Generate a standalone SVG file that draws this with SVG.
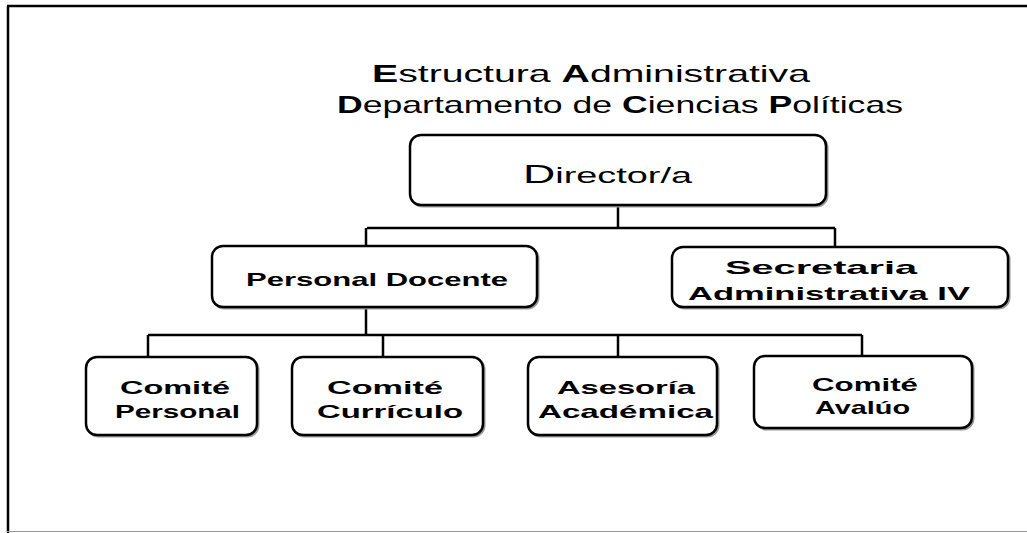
<svg xmlns="http://www.w3.org/2000/svg" width="1027" height="533" viewBox="0 0 1027 533">
<style>
.box{fill:#fff;stroke:#000;stroke-width:2.5}
.sh{fill:none;stroke:#999;stroke-width:2}
.ln{fill:none;stroke:#000;stroke-width:2.5}
.t{font-family:"Liberation Sans",Arial,sans-serif;fill:#000}
.b{font-weight:bold;font-size:18.5px}
.title{font-size:24px}
</style>
<rect width="1027" height="533" fill="#fff"/>
<g id="frame">
<line x1="7" y1="6" x2="1027" y2="6" stroke="#000" stroke-width="2.5"/>
<line x1="8" y1="6" x2="8" y2="533" stroke="#000" stroke-width="2.5"/>
<line x1="7" y1="531.5" x2="1027" y2="531.5" stroke="#999" stroke-width="1"/>
</g>
<g id="title" class="t title">
<text x="372" y="82" textLength="438" lengthAdjust="spacingAndGlyphs"><tspan font-weight="bold">E</tspan>structura <tspan font-weight="bold">A</tspan>dministrativa</text>
<text x="337" y="113" textLength="566" lengthAdjust="spacingAndGlyphs"><tspan font-weight="bold">D</tspan>epartamento de <tspan font-weight="bold">C</tspan>iencias <tspan font-weight="bold">P</tspan>olíticas</text>
</g>
<g id="connectors">
<path class="ln" d="M618 205V228M367 228H835M366 228V246M835 228V247"/>
<path class="ln" d="M366 307V335M148 335H862M148 335V357M383 335V357M618 335V357M862 335V356"/>
</g>
<g id="director">
<rect class="sh" x="411.5" y="136.5" width="416" height="70" rx="11"/>
<rect class="box" x="410" y="135" width="416" height="70" rx="11"/>
<text class="t" x="523" y="183" textLength="169" lengthAdjust="spacingAndGlyphs"><tspan font-size="26">D</tspan><tspan font-size="22">irector/a</tspan></text>
</g>
<g id="personal-docente">
<rect class="sh" x="213.5" y="247.5" width="325" height="61" rx="11"/>
<rect class="box" x="212" y="246" width="325" height="61" rx="11"/>
<text class="t b" x="246" y="286" textLength="262" lengthAdjust="spacingAndGlyphs">Personal Docente</text>
</g>
<g id="secretaria">
<rect class="sh" x="673.5" y="248.5" width="336" height="60" rx="11"/>
<rect class="box" x="672" y="247" width="336" height="60" rx="11"/>
<text class="t b" x="725" y="274" textLength="192" lengthAdjust="spacingAndGlyphs">Secretaria</text>
<text class="t b" x="688" y="300" textLength="282" lengthAdjust="spacingAndGlyphs">Administrativa IV</text>
</g>
<g id="comite-personal">
<rect class="sh" x="87.5" y="358.5" width="171" height="78" rx="11"/>
<rect class="box" x="86" y="357" width="171" height="78" rx="11"/>
<text class="t b" x="120" y="394" textLength="110" lengthAdjust="spacingAndGlyphs">Comité</text>
<text class="t b" x="115" y="418" textLength="125" lengthAdjust="spacingAndGlyphs">Personal</text>
</g>
<g id="comite-curriculo">
<rect class="sh" x="293.5" y="358.5" width="191" height="78" rx="11"/>
<rect class="box" x="292" y="357" width="191" height="78" rx="11"/>
<text class="t b" x="327" y="394" textLength="116" lengthAdjust="spacingAndGlyphs">Comité</text>
<text class="t b" x="317" y="418" textLength="146" lengthAdjust="spacingAndGlyphs">Currículo</text>
</g>
<g id="asesoria">
<rect class="sh" x="529.5" y="358.5" width="189" height="78" rx="11"/>
<rect class="box" x="528" y="357" width="189" height="78" rx="11"/>
<text class="t b" x="557" y="394" textLength="138" lengthAdjust="spacingAndGlyphs">Asesoría</text>
<text class="t b" x="538" y="418" textLength="175" lengthAdjust="spacingAndGlyphs">Académica</text>
</g>
<g id="comite-avaluo">
<rect class="sh" x="755.5" y="357.5" width="218" height="72" rx="11"/>
<rect class="box" x="754" y="356" width="218" height="72" rx="11"/>
<text class="t b" x="812" y="391" textLength="106" lengthAdjust="spacingAndGlyphs">Comité</text>
<text class="t b" x="815" y="414" textLength="95" lengthAdjust="spacingAndGlyphs">Avalúo</text>
</g>
</svg>
